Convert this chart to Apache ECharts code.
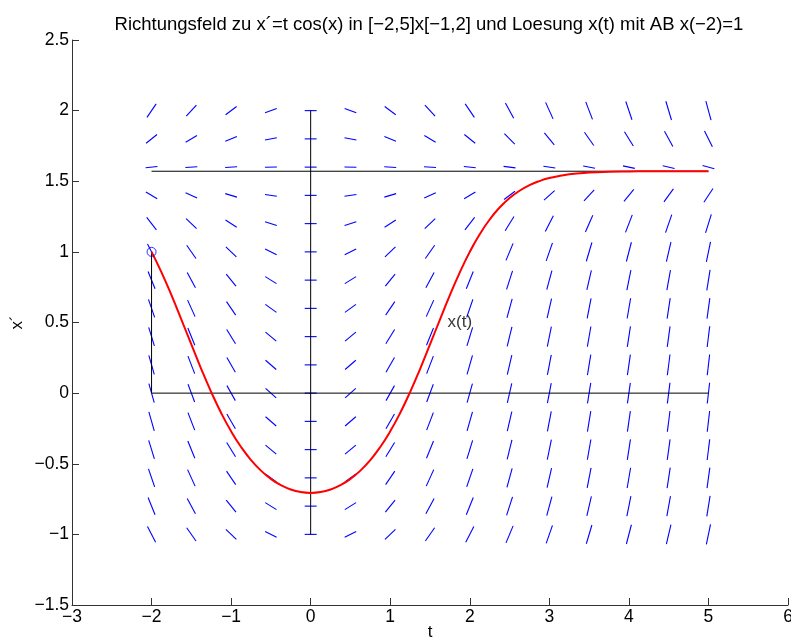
<!DOCTYPE html>
<html>
<head>
<meta charset="utf-8">
<script src="https://cdn.jsdelivr.net/npm/echarts@6/dist/echarts.min.js"></script>
<style>
html,body{margin:0;padding:0;background:#fff;}
#chart{width:791px;height:642px;}
</style>
</head>
<body>
<div id="chart"></div>
<script>
// Grid of the direction field
var tGrid = [-2, -1.5, -1, -0.5, 0, 0.5, 1, 1.5, 2, 2.5, 3, 3.5, 4, 4.5, 5];
var xGrid = [-1, -0.8, -0.6, -0.4, -0.2, 0, 0.2, 0.4, 0.6, 0.8, 1.0, 1.2, 1.4, 1.6, 1.8, 2.0];
// Slope x' at each grid point (rows follow xGrid, columns follow tGrid)
var slopes = [
  [-1.08,-0.81,-0.54,-0.27,0,0.27,0.54,0.81,1.08,1.35,1.62,1.89,2.16,2.43,2.70],
  [-1.39,-1.05,-0.70,-0.35,0,0.35,0.70,1.05,1.39,1.74,2.09,2.44,2.79,3.14,3.48],
  [-1.65,-1.24,-0.83,-0.41,0,0.41,0.83,1.24,1.65,2.06,2.48,2.89,3.30,3.71,4.13],
  [-1.84,-1.38,-0.92,-0.46,0,0.46,0.92,1.38,1.84,2.30,2.76,3.22,3.68,4.14,4.61],
  [-1.96,-1.47,-0.98,-0.49,0,0.49,0.98,1.47,1.96,2.45,2.94,3.43,3.92,4.41,4.90],
  [-2.00,-1.50,-1.00,-0.50,0,0.50,1.00,1.50,2.00,2.50,3.00,3.50,4.00,4.50,5.00],
  [-1.96,-1.47,-0.98,-0.49,0,0.49,0.98,1.47,1.96,2.45,2.94,3.43,3.92,4.41,4.90],
  [-1.84,-1.38,-0.92,-0.46,0,0.46,0.92,1.38,1.84,2.30,2.76,3.22,3.68,4.14,4.61],
  [-1.65,-1.24,-0.83,-0.41,0,0.41,0.83,1.24,1.65,2.06,2.48,2.89,3.30,3.71,4.13],
  [-1.39,-1.05,-0.70,-0.35,0,0.35,0.70,1.05,1.39,1.74,2.09,2.44,2.79,3.14,3.48],
  [-1.08,-0.81,-0.54,-0.27,0,0.27,0.54,0.81,1.08,1.35,1.62,1.89,2.16,2.43,2.70],
  [-0.72,-0.54,-0.36,-0.18,0,0.18,0.36,0.54,0.72,0.91,1.09,1.27,1.45,1.63,1.81],
  [-0.34,-0.26,-0.17,-0.09,0,0.09,0.17,0.26,0.34,0.43,0.51,0.60,0.68,0.77,0.85],
  [0.06,0.04,0.03,0.01,0,-0.01,-0.03,-0.04,-0.06,-0.07,-0.09,-0.10,-0.12,-0.13,-0.15],
  [0.45,0.34,0.23,0.11,0,-0.11,-0.23,-0.34,-0.45,-0.57,-0.68,-0.80,-0.91,-1.02,-1.14],
  [0.83,0.62,0.42,0.21,0,-0.21,-0.42,-0.62,-0.83,-1.04,-1.25,-1.46,-1.66,-1.87,-2.08]
];
// Solution x(t) with x(-2)=1
var solT = [-2,-1.875,-1.75,-1.625,-1.5,-1.375,-1.25,-1.125,-1,-0.875,-0.75,-0.625,-0.5,-0.375,-0.25,-0.125,
            0,0.125,0.25,0.375,0.5,0.625,0.75,0.875,1,1.125,1.25,1.375,1.5,1.625,1.75,1.875,
            2,2.125,2.25,2.375,2.5,2.625,2.75,2.875,3,3.25,3.5,3.75,4,4.25,4.5,4.75,5];
var solX = [1.0000,0.8554,0.6941,0.5212,0.3443,0.1707,0.0076,-0.1405,-0.2703,-0.3813,-0.4738,-0.5486,-0.6074,-0.6518,-0.6824,-0.7004,
            -0.7064,-0.7004,-0.6824,-0.6518,-0.6074,-0.5486,-0.4738,-0.3813,-0.2703,-0.1405,0.0076,0.1707,0.3443,0.5212,0.6941,0.8554,
            1.0000,1.1249,1.2292,1.3139,1.3809,1.4327,1.4721,1.5013,1.5227,1.5488,1.5613,1.5670,1.5693,1.5703,1.5706,1.5707,1.5708];
// Reference lines
var lineEquil = [[-2, 1.5708], [5, 1.5708]];
var lineZero = [[-2, 0], [5, 0]];
var lineTAxis = [[0, -1], [0, 2]];
var lineStart = [[-2, 0], [-2, 1]];
var startPoint = [[-2, 1]];
var labelPoint = [[1.72, 0.5]];

var fieldData = [];
for (var i = 0; i < xGrid.length; i++) {
  for (var j = 0; j < tGrid.length; j++) {
    fieldData.push([tGrid[j], xGrid[i], slopes[i][j]]);
  }
}
var solData = solT.map(function (t, k) { return [t, solX[k]]; });

var FONT = 'Liberation Sans';
function fmt(v) { return String(v).replace('-', '\u2212'); }

var chart = echarts.init(document.getElementById('chart'), null, {renderer: 'canvas'});
var blackLine = function (data) {
  return {type: 'line', data: data, symbol: 'none', silent: true,
    lineStyle: {color: '#000', width: 1}, z: 3, animation: false};
};
chart.setOption({
  animation: false,
  backgroundColor: '#fff',
  title: {
    text: 'Richtungsfeld zu x\u00b4=t cos(x) in [\u22122,5]x[\u22121,2] und Loesung x(t) mit AB x(\u22122)=1',
    left: 424, top: 10, textAlign: 'center',
    textStyle: {fontFamily: FONT, fontSize: 18.5, fontWeight: 'normal', color: '#000'}
  },
  grid: {left: 72, right: 3, top: 40, bottom: 37, containLabel: false, outerBoundsMode: 'none'},
  xAxis: {
    type: 'value', min: -3, max: 6, interval: 1,
    name: 't', nameLocation: 'middle', nameGap: 19, nameMoveOverlap: false,
    nameTextStyle: {fontFamily: FONT, fontSize: 17, color: '#000'},
    axisLine: {onZero: false, lineStyle: {color: '#333', width: 1}},
    axisTick: {inside: true, length: 7, lineStyle: {color: '#333'}},
    axisLabel: {fontFamily: FONT, fontSize: 17.5, color: '#000', margin: 3, formatter: fmt, showMaxLabel: true, showMinLabel: true, hideOverlap: false},
    splitLine: {show: false}
  },
  yAxis: {
    type: 'value', min: -1.5, max: 2.5, interval: 0.5,
    name: 'x\u00b4', nameLocation: 'middle', nameGap: 46, nameRotate: 90, nameMoveOverlap: false,
    nameTextStyle: {fontFamily: FONT, fontSize: 17, color: '#000'},
    axisLine: {onZero: false, lineStyle: {color: '#333', width: 1}},
    axisTick: {inside: true, length: 7, lineStyle: {color: '#333'}},
    axisLabel: {fontFamily: FONT, fontSize: 17.5, color: '#000', margin: 3, formatter: fmt, showMaxLabel: true, showMinLabel: true, hideOverlap: false},
    splitLine: {show: false}
  },
  series: [
    {
      type: 'custom', data: fieldData, z: 2, silent: true,
      renderItem: function (params, api) {
        var t = api.value(0), x = api.value(1), s = api.value(2);
        var h = 0.075;
        var dt = h / Math.sqrt(1 + s * s), dx = s * dt;
        var p1 = api.coord([t - dt, x - dx]);
        var p2 = api.coord([t + dt, x + dx]);
        return {type: 'line', shape: {x1: p1[0], y1: p1[1], x2: p2[0], y2: p2[1]},
          style: {stroke: '#0000ff', lineWidth: 1.1}};
      }
    },
    blackLine(lineEquil),
    blackLine(lineZero),
    blackLine(lineTAxis),
    blackLine(lineStart),
    {
      type: 'line', data: solData, smooth: true, symbol: 'none', silent: true, z: 5,
      lineStyle: {color: '#ff0000', width: 2}
    },
    {
      type: 'scatter', data: startPoint, symbol: 'circle', symbolSize: 9, z: 6, silent: true,
      itemStyle: {color: 'rgba(0,0,0,0)', borderColor: '#0000ff', borderWidth: 1}
    },
    {
      type: 'scatter', data: labelPoint, symbolSize: 0, z: 6, silent: true,
      label: {show: true, position: 'right', distance: 0, formatter: 'x(t)',
        fontFamily: FONT, fontSize: 17, color: '#000'}
    }
  ]
});
</script>
</body>
</html>
